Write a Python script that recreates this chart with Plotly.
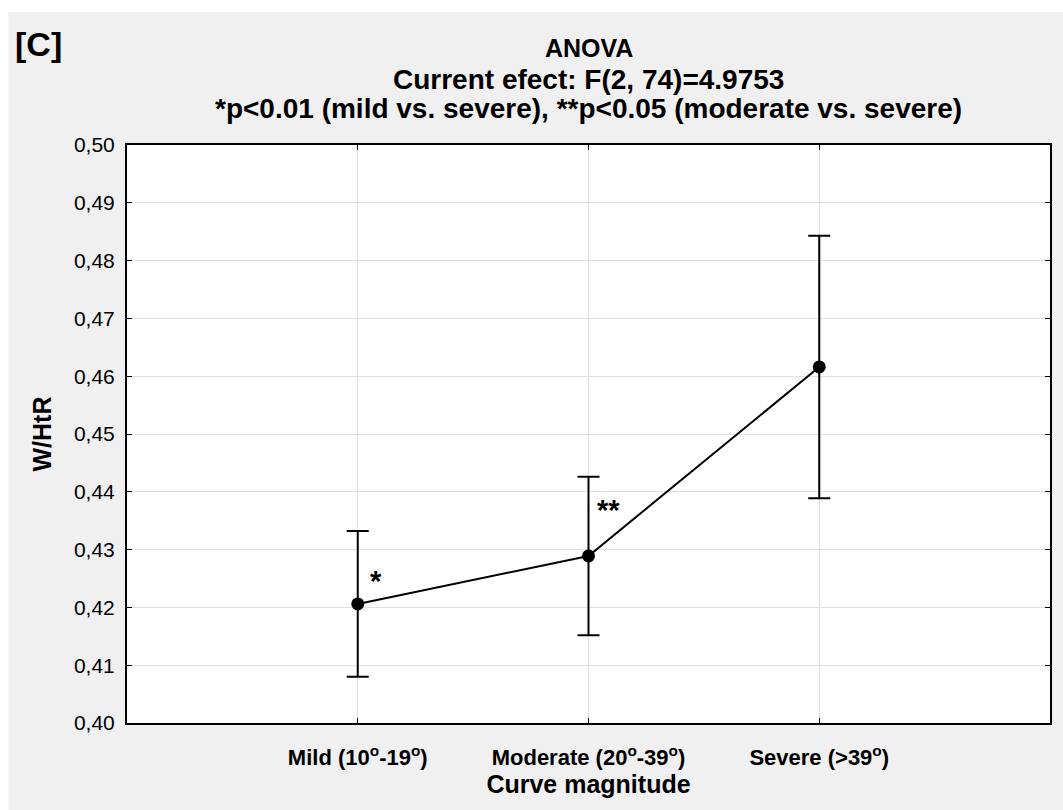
import plotly.graph_objects as go

categories = ["Mild (10<sup>o</sup>-19<sup>o</sup>)", "Moderate (20<sup>o</sup>-39<sup>o</sup>)", "Severe (>39<sup>o</sup>)"]
means = [0.4206, 0.4289, 0.4616]
errors = [0.0126, 0.0137, 0.0227]
y_ticks = [0.40, 0.41, 0.42, 0.43, 0.44, 0.45, 0.46, 0.47, 0.48, 0.49, 0.50]
sig_labels = ["*", "**"]
sig_x = [0.08, 1.087]
sig_y = [0.4245, 0.4368]

FONT = "Liberation Sans, Arial, sans-serif"

fig = go.Figure()
fig.add_trace(go.Scatter(
    x=[0, 1, 2], y=means,
    mode="lines+markers",
    line=dict(color="black", width=2),
    marker=dict(color="black", size=13),
    error_y=dict(type="data", array=errors, visible=True, color="black", thickness=2, width=11),
    showlegend=False,
    hoverinfo="skip",
))

for lab, sx, sy in zip(sig_labels, sig_x, sig_y):
    fig.add_annotation(x=sx, y=sy, text="<b>%s</b>" % lab, showarrow=False,
                       font=dict(family=FONT, size=29, color="black"),
                       xanchor="center", yanchor="middle")

# Titles
fig.add_annotation(xref="paper", yref="paper", x=0.5, y=1.1678, text="<b>ANOVA</b>",
                   showarrow=False, font=dict(family=FONT, size=25, color="black"),
                   xanchor="center", yanchor="middle")
fig.add_annotation(xref="paper", yref="paper", x=0.5, y=1.1125,
                   text="<b>Current efect: F(2, 74)=4.9753</b>",
                   showarrow=False, font=dict(family=FONT, size=28, color="black"),
                   xanchor="center", yanchor="middle")
fig.add_annotation(xref="paper", yref="paper", x=0.5, y=1.0623,
                   text="<b>*p<0.01 (mild vs. severe), **p<0.05 (moderate vs. severe)</b>",
                   showarrow=False, font=dict(family=FONT, size=28, color="black"),
                   xanchor="center", yanchor="middle")
fig.add_annotation(xref="paper", yref="paper", x=-0.123, y=1.1747, text="<b>[C]</b>",
                   showarrow=False, font=dict(family=FONT, size=34, color="black"),
                   xanchor="left", yanchor="middle")

# Gray background with white strips on top/left
fig.add_shape(type="rect", xref="paper", yref="paper", x0=-0.1286, x1=1.05, y0=-0.2, y1=1.2301,
              fillcolor="#f0f0f0", line=dict(width=0), layer="below")
fig.add_shape(type="rect", xref="paper", yref="paper", x0=0, x1=1, y0=0, y1=1,
              fillcolor="white", line=dict(width=0), layer="below")

fig.update_layout(
    width=1063, height=810,
    margin=dict(l=127, r=11, t=145, b=87),
    paper_bgcolor="white",
    plot_bgcolor="white",
    separators=",.",
    font=dict(family=FONT, color="black"),
    xaxis=dict(
        range=[-1, 3],
        tickmode="array", tickvals=[0, 1, 2], ticktext=["<b>%s</b>" % c for c in categories],
        tickfont=dict(family=FONT, size=22, color="black"),
        ticks="inside", ticklen=5, tickwidth=1, tickcolor="black",
        ticklabelstandoff=14,
        showline=True, linecolor="black", linewidth=2, mirror="ticks",
        showgrid=True, gridcolor="#e0e0e0", gridwidth=1,
        zeroline=False,
        title=dict(text="<b>Curve magnitude</b>", font=dict(family=FONT, size=25, color="black"), standoff=6),
        fixedrange=True,
    ),
    yaxis=dict(
        range=[0.40, 0.50],
        tickmode="array", tickvals=y_ticks, tickformat=".2f",
        tickfont=dict(family=FONT, size=21, color="black"),
        ticks="inside", ticklen=5, tickwidth=1, tickcolor="black",
        ticklabelstandoff=6,
        showline=True, linecolor="black", linewidth=2, mirror="ticks",
        showgrid=True, gridcolor="#e0e0e0", gridwidth=1,
        zeroline=False,
        title=dict(text="<b>W/HtR</b>", font=dict(family=FONT, size=25, color="black"), standoff=15),
        fixedrange=True,
    ),
)

fig.write_html("out.html")
